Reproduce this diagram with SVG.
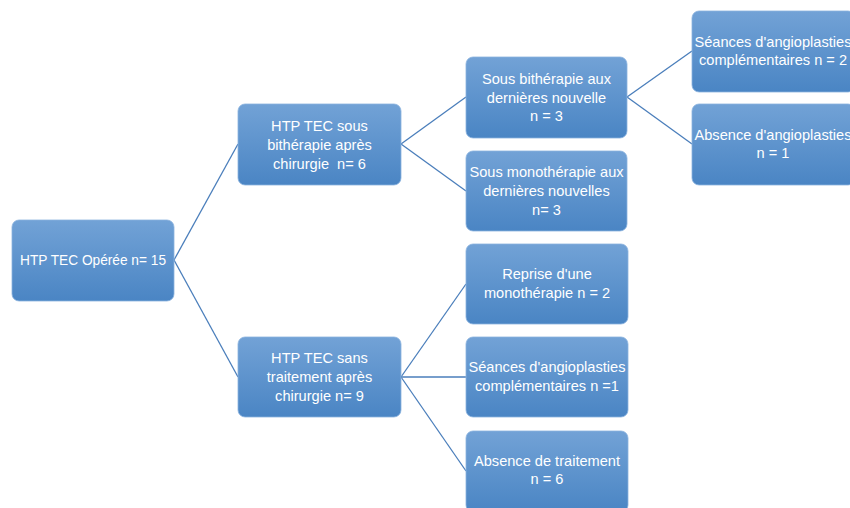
<svg xmlns="http://www.w3.org/2000/svg" width="850" height="508" viewBox="0 0 850 508">
<defs>
<linearGradient id="g" x1="0" y1="0" x2="0" y2="1">
<stop offset="0" stop-color="#72a2d6"/>
<stop offset="1" stop-color="#4a85c4"/>
</linearGradient>
<style>
.box{fill:url(#g);stroke:#8ab2de;stroke-width:0.8}
.t{font-family:"Liberation Sans",Arial,sans-serif;font-size:14.6px;fill:#ffffff;text-anchor:middle}
.c{stroke:#4a7ebb;stroke-width:1.3;fill:none}
</style>
</defs>
<rect width="850" height="508" fill="#ffffff"/>
<g id="connectors">
<line class="c" x1="174" y1="260" x2="238" y2="144"/>
<line class="c" x1="174" y1="260" x2="238" y2="377"/>
<line class="c" x1="401" y1="144" x2="466" y2="97"/>
<line class="c" x1="401" y1="144" x2="466" y2="191"/>
<line class="c" x1="627" y1="97" x2="692" y2="51"/>
<line class="c" x1="627" y1="97" x2="692" y2="144"/>
<line class="c" x1="401" y1="377" x2="466" y2="284"/>
<line class="c" x1="401" y1="377" x2="466" y2="377"/>
<line class="c" x1="401" y1="377" x2="466" y2="471"/>
</g>
<g id="root">
<rect class="box" x="12" y="220" width="162" height="81" rx="7"/>
<text class="t" x="93" y="265" textLength="146" lengthAdjust="spacingAndGlyphs">HTP TEC Opérée n= 15</text>
</g>
<g id="bitherapie">
<rect class="box" x="238" y="104" width="163" height="81" rx="7"/>
<text class="t" x="319.5" y="131">HTP TEC sous</text>
<text class="t" x="319.5" y="150">bithérapie après</text>
<text class="t" x="319.5" y="169" xml:space="preserve">chirurgie  n= 6</text>
</g>
<g id="sans-traitement">
<rect class="box" x="238" y="337" width="163" height="80" rx="7"/>
<text class="t" x="319.5" y="363">HTP TEC sans</text>
<text class="t" x="319.5" y="382">traitement après</text>
<text class="t" x="319.5" y="401">chirurgie n= 9</text>
</g>
<g id="sous-bitherapie">
<rect class="box" x="466" y="57" width="161" height="81" rx="7"/>
<text class="t" x="546.5" y="84">Sous bithérapie aux</text>
<text class="t" x="546.5" y="103">dernières nouvelle</text>
<text class="t" x="546.5" y="121">n = 3</text>
</g>
<g id="sous-monotherapie">
<rect class="box" x="466" y="151" width="161" height="80" rx="7"/>
<text class="t" x="546.5" y="177">Sous monothérapie aux</text>
<text class="t" x="546.5" y="196">dernières nouvelles</text>
<text class="t" x="546.5" y="215">n= 3</text>
</g>
<g id="seances-2">
<rect class="box" x="692" y="11" width="163" height="81" rx="7"/>
<text class="t" x="773" y="47">Séances d'angioplasties</text>
<text class="t" x="773" y="65">complémentaires n = 2</text>
</g>
<g id="absence-angio">
<rect class="box" x="692" y="104" width="163" height="81" rx="7"/>
<text class="t" x="773" y="140">Absence d'angioplasties</text>
<text class="t" x="773" y="158">n = 1</text>
</g>
<g id="reprise">
<rect class="box" x="466" y="244" width="162" height="80" rx="7"/>
<text class="t" x="547" y="279">Reprise d'une</text>
<text class="t" x="547" y="298">monothérapie n = 2</text>
</g>
<g id="seances-1">
<rect class="box" x="466" y="337" width="162" height="80" rx="7"/>
<text class="t" x="547" y="372">Séances d'angioplasties</text>
<text class="t" x="547" y="391">complémentaires n =1</text>
</g>
<g id="absence-traitement">
<rect class="box" x="466" y="431" width="162" height="81" rx="7"/>
<text class="t" x="547" y="466">Absence de traitement</text>
<text class="t" x="547" y="484">n = 6</text>
</g>
</svg>
